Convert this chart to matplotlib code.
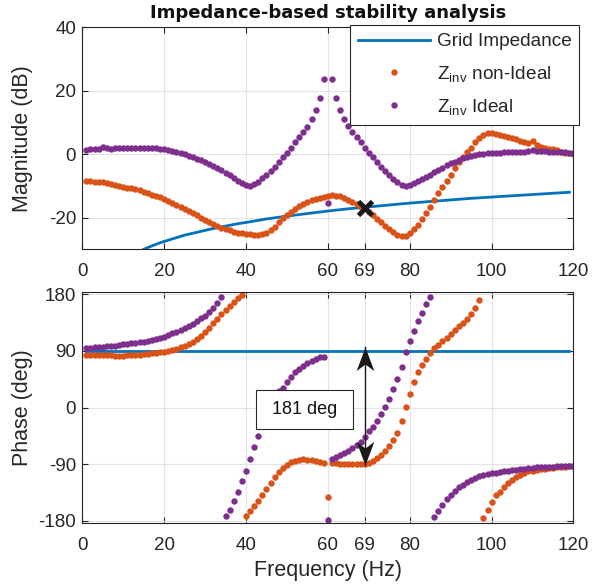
import numpy as np
import matplotlib
matplotlib.use("Agg")
import matplotlib.pyplot as plt
from matplotlib.path import Path

plt.rcParams["font.family"] = ["Liberation Sans", "DejaVu Sans"]
plt.rcParams["axes.unicode_minus"] = False

# frequency sweep, 1 Hz steps
freq = np.arange(1, 121)

# magnitude (dB)
mag_ideal = [
    1.3, 1.5, 1.6, 1.8, 2.2, 1.9, 1.8, 2.0, 1.9, 2.0, 2.1, 2.1, 2.1, 2.0, 2.1, 2.0, 1.9, 1.9, 1.7, 1.6,
    1.4, 1.1, 0.7, 0.4, 0.0, -0.5, -0.9, -1.4, -1.8, -2.3, -3.0, -3.7, -4.4, -5.1, -5.8, -6.6, -7.6, -8.5, -9.2, -9.7,
    -9.9, -9.3, -8.6, -7.6, -6.5, -5.2, -3.9, -2.5, -1.0, 0.5, 2.1, 3.7, 5.3, 6.9, 8.7, 11.1, 13.8, 17.6, 23.8, -15.5,
    23.7, 17.6, 14.0, 11.1, 8.9, 6.9, 5.4, 3.7, 1.9, 0.3, -1.0, -2.3, -3.9, -5.2, -6.5, -7.8, -8.8, -9.7, -9.9, -9.7,
    -9.1, -8.5, -7.9, -7.1, -6.4, -5.7, -4.9, -4.2, -3.5, -2.8, -2.3, -1.8, -1.3, -0.8, -0.5, -0.2, 0.0, 0.2, 0.3, 0.4,
    0.5, 0.5, 0.6, 0.6, 0.7, 0.7, 0.8, 0.8, 0.9, 1.3, 0.9, 0.9, 0.9, 0.8, 0.8, 0.7, 0.7, 0.6, 0.5, 0.5,
]
mag_nonideal = [
    -8.4, -8.5, -8.6, -8.8, -8.9, -9.1, -9.4, -9.6, -9.9, -10.2, -10.5, -10.8, -11.1, -11.4, -11.8, -12.2, -12.7, -13.1, -13.6, -14.1,
    -14.7, -15.3, -15.9, -16.5, -17.2, -17.9, -18.6, -19.3, -20.0, -20.7, -21.3, -21.9, -22.5, -23.1, -23.6, -24.0, -24.4, -24.7, -24.9, -25.1,
    -25.2, -25.3, -25.3, -25.1, -24.7, -23.9, -22.8, -21.5, -20.2, -19.1, -18.1, -17.2, -16.3, -15.6, -14.9, -14.4, -14.0, -13.7, -13.4, -13.3,
    -13.0, -13.1, -13.3, -13.9, -14.4, -14.9, -15.6, -16.5, -17.1, -18.1, -19.1, -20.4, -21.5, -22.6, -23.5, -24.5, -25.3, -25.9, -25.7, -24.9,
    -23.6, -22.2, -20.5, -18.6, -16.5, -14.4, -12.3, -10.4, -8.4, -6.5, -4.4, -2.6, -0.9, 0.6, 2.1, 3.7, 5.0, 6.2, 6.8, 6.8,
    6.4, 6.1, 5.8, 5.4, 5.0, 4.7, 4.3, 3.9, 3.5, 4.3, 2.8, 2.4, 2.1, 1.8, 1.5, 1.2, 0.8, 0.5, 0.3, 0.1,
]

# phase (deg)
phase_ideal = [
    94.2, 95.0, 95.5, 96.0, 96.8, 97.2, 97.8, 98.5, 99.5, 100.6, 101.2, 102.0, 103.0, 103.8, 104.8, 106.0, 107.3, 108.8, 110.6, 112.8,
    115.2, 117.8, 120.5, 123.2, 126.0, 129.5, 133.3, 137.6, 141.8, 146.0, 152.5, 158.8, 165.7, 176.3, -173.0, -162.5, -149.3, -134.5, -117.5, -100.6,
    -82.0, -63.5, -46.0, -28.0, -12.0, 3.0, 16.0, 26.0, 31.8, 41.3, 49.2, 56.1, 61.4, 66.2, 70.4, 74.1, 77.3, 79.9, 81.0, -179.5,
    -81.5, -78.9, -75.7, -72.5, -68.3, -64.6, -59.3, -54.0, -46.1, -38.1, -30.2, -21.2, -10.6, 0.5, 13.2, 29.6, 45.5, 64.0, 88.0, 106.0,
    122.0, 137.0, 151.0, 164.1, 175.2, -174.2, -164.1, -154.6, -145.6, -138.7, -132.3, -127.0, -122.8, -118.6, -114.9, -112.2, -109.6, -108.0, -106.4, -104.8,
    -103.8, -102.7, -101.6, -100.6, -99.5, -98.5, -97.4, -96.9, -96.3, -95.8, -95.3, -94.8, -94.5, -94.2, -93.9, -93.6, -93.3, -93.0, -92.8, -92.6,
]
phase_nonideal = [
    83.6, 83.4, 83.2, 83.0, 82.9, 82.8, 82.7, 82.6, 82.6, 82.6, 82.8, 83.0, 83.4, 84.0, 84.7, 85.4, 86.2, 87.0, 87.9, 88.9,
    90.2, 91.6, 93.5, 95.8, 98.5, 101.5, 104.8, 109.0, 114.3, 120.7, 127.0, 134.0, 140.8, 148.2, 155.1, 162.0, 168.3, 174.7, 179.5, -173.0,
    -165.0, -157.0, -148.0, -139.0, -129.0, -120.7, -111.0, -102.7, -96.3, -91.0, -86.8, -84.2, -82.6, -82.1, -82.6, -83.6, -84.7, -85.8, -87.9, -142.4,
    -87.5, -88.5, -89.0, -89.5, -90.0, -90.2, -90.2, -90.0, -89.6, -87.8, -84.9, -80.9, -75.5, -68.8, -60.8, -51.3, -40.8, -22.2, 0.6, 21.7,
    41.3, 57.2, 67.8, 77.3, 86.0, 94.0, 100.0, 105.0, 111.0, 117.0, 123.0, 129.0, 134.0, 141.0, 148.0, 158.0, 171.0, -175.8, -162.5, -150.3,
    -139.8, -134.5, -126.5, -120.2, -114.9, -110.6, -106.9, -104.3, -101.6, -100.1, -99.0, -97.9, -96.9, -96.3, -95.8, -95.3, -94.8, -94.2, -93.7, -93.2,
]

# grid impedance curve
grid_freq = [12, 13, 14, 15, 16, 17, 18, 19, 20, 21, 22, 23, 24, 25, 26, 27, 28, 29, 30, 32, 34, 36, 38, 40,
             45, 50, 55, 60, 65, 69, 70, 75, 80, 85, 90, 95, 100, 105, 110, 115, 119]
grid_mag = [-31.9, -31.2, -30.6, -30.0, -29.4, -28.9, -28.4, -27.9, -27.5, -27.1, -26.7, -26.3, -25.9, -25.5,
            -25.2, -24.9, -24.6, -24.3, -24.0, -23.4, -22.9, -22.4, -21.9, -21.5, -20.4, -19.5, -18.7, -17.9,
            -17.2, -16.7, -16.6, -16.0, -15.4, -14.9, -14.4, -13.9, -13.5, -13.1, -12.7, -12.3, -12.0]
grid_phase_freq = [1, 119]
grid_phase = [90, 90]

# intersection and phase margin annotation
cross_freq = 69
cross_mag = -17.1
arrow_top = 96
arrow_bottom = -91
margin_text = " 181 deg "

xticks = [0, 20, 40, 60, 69, 80, 100, 120]
mag_ticks = [-20, 0, 20, 40]
phase_ticks = [-180, -90, 0, 90, 180]

c_grid = "#0072BD"
c_non = "#D95319"
c_ideal = "#7E2F8E"
c_axis = "#262626"
fs_tick = 13.5
fs_label = 15.5
fs_leg = 13.7


def style_axes(ax):
    ax.set_xlim(0, 120)
    ax.set_xticks(xticks)
    ax.grid(True, color="#e3e3e3", linewidth=0.8)
    ax.set_axisbelow(True)
    ax.tick_params(direction="in", length=4, width=0.8, top=True, right=True,
                   labelsize=fs_tick, colors=c_axis)
    ax.tick_params(axis="x", pad=10)
    ax.tick_params(axis="y", pad=4.5)
    for sp in ax.spines.values():
        sp.set_color(c_axis)
        sp.set_linewidth(0.8)


fig = plt.figure(figsize=(5.92, 5.87), dpi=100)
ax1 = fig.add_axes([0.1390, 0.5751, 0.8297, 0.3784])
ax2 = fig.add_axes([0.1390, 0.1085, 0.8297, 0.3945])

dot = dict(linestyle="none", marker="o", markersize=4.6, markeredgewidth=0)

ax1.plot(grid_freq, grid_mag, color=c_grid, linewidth=2, label="Grid Impedance")
ax1.plot(freq, mag_nonideal, color=c_non, label=r"$\mathregular{Z_{inv}}$ non-Ideal", **dot)
ax1.plot(freq, mag_ideal, color=c_ideal, label=r"$\mathregular{Z_{inv}}$ Ideal", **dot)
ax1.plot([cross_freq], [cross_mag], marker="x", color="#1a1a1a", markersize=10, markeredgewidth=3.5,
         linestyle="none", zorder=5)
style_axes(ax1)
ax1.set_ylim(-30, 40)
ax1.set_yticks(mag_ticks)
ax1.set_ylabel("Magnitude (dB)", fontsize=fs_label, color=c_axis)
ax1.yaxis.set_label_coords(-0.100, 0.5)
ax1.set_title("Impedance-based stability analysis", fontsize=13, fontweight="bold",
              family="DejaVu Sans", color="#111111", pad=7)

leg = ax1.legend(loc="upper right", bbox_to_anchor=(579.3 / 592, 1 - 25 / 587), bbox_transform=fig.transFigure,
                 borderaxespad=0, fontsize=fs_leg, handlelength=3.8, handletextpad=0.32, borderpad=0.42,
                 labelspacing=0.7, fancybox=False, framealpha=1)
leg.get_frame().set_edgecolor(c_axis)
leg.get_frame().set_linewidth(0.8)
for t in leg.get_texts():
    t.set_color(c_axis)

ax2.plot(grid_phase_freq, grid_phase, color=c_grid, linewidth=2)
ax2.plot(freq, phase_nonideal, color=c_non, **dot)
ax2.plot(freq, phase_ideal, color=c_ideal, **dot)
style_axes(ax2)
ax2.set_ylim(-184, 184)
ax2.set_yticks(phase_ticks)
ax2.set_ylabel("Phase (deg)", fontsize=fs_label, color=c_axis)
ax2.yaxis.set_label_coords(-0.100, 0.5)
ax2.set_xlabel("Frequency (Hz)", fontsize=fs_label, color=c_axis, labelpad=4)

# double arrow with notched heads (MATLAB style)
head_up = Path([(0, 0), (0.375, -1), (0, -0.72), (-0.375, -1), (0, 0)],
               [Path.MOVETO, Path.LINETO, Path.LINETO, Path.LINETO, Path.CLOSEPOLY])
head_down = Path([(0, 0), (0.375, 1), (0, 0.72), (-0.375, 1), (0, 0)],
                 [Path.MOVETO, Path.LINETO, Path.LINETO, Path.LINETO, Path.CLOSEPOLY])
ax2.plot([cross_freq, cross_freq], [arrow_top, arrow_bottom], color="#1a1a1a", linewidth=1, zorder=6)
ax2.plot([cross_freq], [arrow_top], marker=head_up, markersize=34, color="#1a1a1a",
         markeredgewidth=0, linestyle="none", zorder=6)
ax2.plot([cross_freq], [arrow_bottom], marker=head_down, markersize=34, color="#1a1a1a",
         markeredgewidth=0, linestyle="none", zorder=6)

ax2.text(54.3, -2.9, margin_text, fontsize=13, color="#111111", ha="center", va="center", zorder=7,
         bbox=dict(boxstyle="square,pad=0.6", facecolor="white", edgecolor=c_axis, linewidth=0.8))

fig.savefig("out.png", dpi=100)
